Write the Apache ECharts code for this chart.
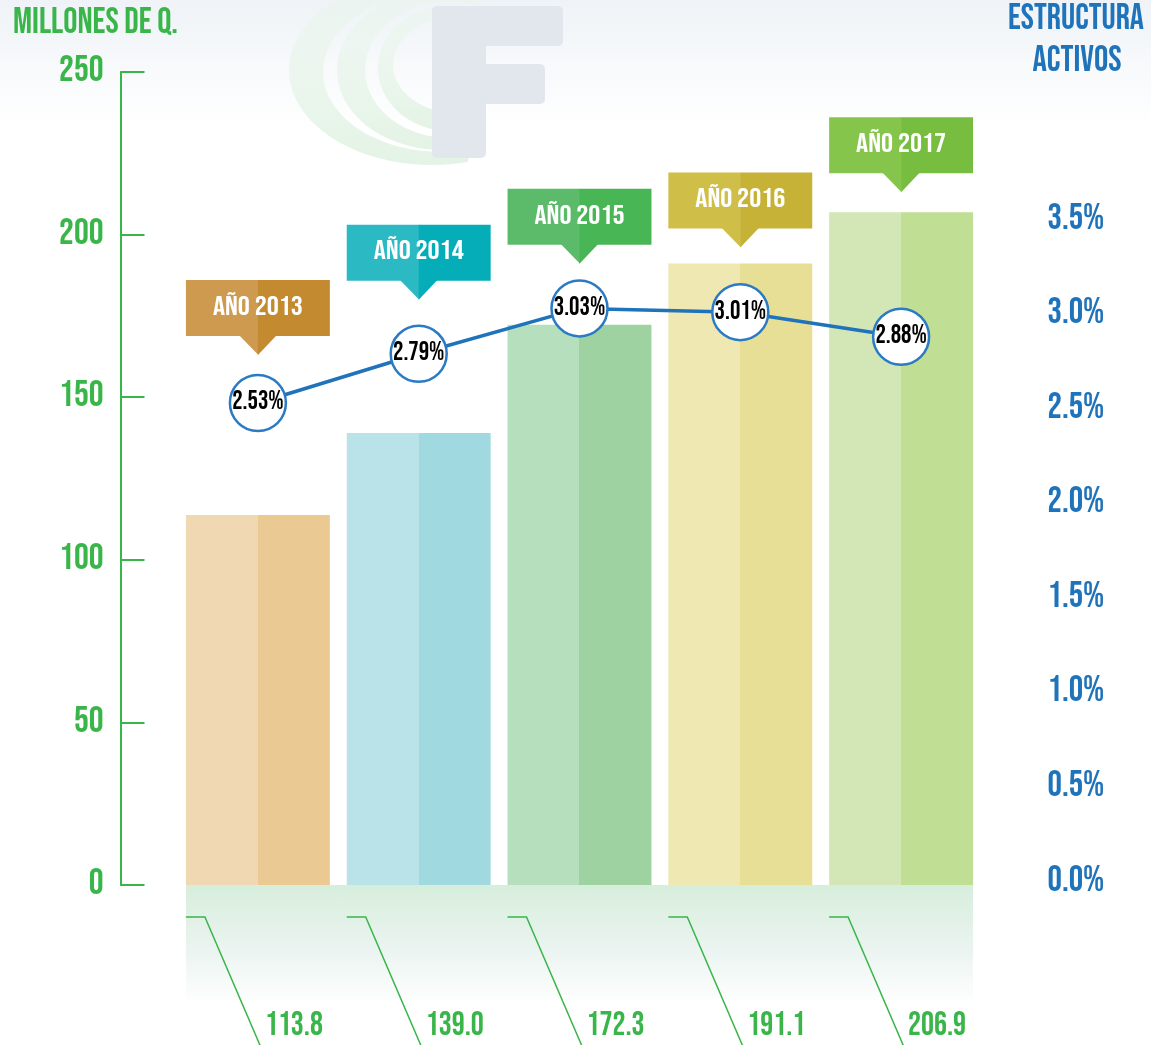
<!DOCTYPE html>
<html><head><meta charset="utf-8">
<script src="https://cdn.jsdelivr.net/npm/echarts@6/dist/echarts.min.js"></script>
<style>html,body{margin:0;padding:0;background:#fff}#c{width:1151px;height:1045px}</style>
</head><body><div id="c"></div>
<script>
// ---------- data ----------
const years = ['2013', '2014', '2015', '2016', '2017'];
const bannerLabels = ['AÑO 2013', 'AÑO 2014', 'AÑO 2015', 'AÑO 2016', 'AÑO 2017'];
const millones = [113.8, 139.0, 172.3, 191.1, 206.9];          // Millones de Q.
const estructura = [2.53, 2.79, 3.03, 3.01, 2.88];            // Estructura activos (%)
const leftAxisTicks = [0, 50, 100, 150, 200, 250];
const rightAxisTicks = [0.0, 0.5, 1.0, 1.5, 2.0, 2.5, 3.0, 3.5];
const bannerLevel = [163, 180, 191, 196, 213];                 // banner pointer level (millones scale)

// ---------- styles ----------
const GREEN = '#3ab54a', BLUE = '#1f73ba';
const barLight = ['#f0d8b2', '#b9e3e9', '#b6dfbd', '#efe8b2', '#d3e7b6'];
const barDark  = ['#eac993', '#a0d9e0', '#9fd2a1', '#e8df96', '#c1de95'];
const banLight = ['#cd9a50', '#2bb9c4', '#5cbb6a', '#cfbe48', '#86c54b'];
const banDark  = ['#c38a2f', '#05adb9', '#49b655', '#c5b236', '#77bd3f'];
const FONT = "'Bebas Neue','Oswald','Roboto Condensed',sans-serif";
const BAR_RATIO = 0.895;

const mctx = document.createElement('canvas').getContext('2d');
function fitX(text, size, w) { mctx.font = size + 'px ' + FONT; return w / mctx.measureText(text).width; }
function ctext(text, size, x, y, w, fill, align) {
  return { type: 'text', x: x, y: y, scaleX: fitX(text, size, w),
    style: { text: text, font: size + 'px ' + FONT, fill: fill,
      textAlign: align, align: align, textVerticalAlign: 'middle', verticalAlign: 'middle' } };
}
function crescent(o, inn, t1, t2) {
  const pts = [], N = 60;
  for (let k = 0; k <= N; k++) { const t = t1 + (t2 - t1) * k / N; pts.push([o[0] + o[2] * Math.cos(t), o[1] + o[3] * Math.sin(t)]); }
  for (let k = N; k >= 0; k--) { const t = t1 + (t2 - t1) * k / N; pts.push([inn[0] + inn[2] * Math.cos(t), inn[1] + inn[3] * Math.sin(t)]); }
  return { type: 'polygon', z: -10, shape: { points: pts }, silent: true,
    style: { fill: { type: 'linear', x: 0, y: 0, x2: 0, y2: 1, colorStops: [
      { offset: 0, color: 'rgba(232,245,234,0.35)' }, { offset: 1, color: '#e3f3e5' }] } } };
}

const leftMin = leftAxisTicks[0], leftMax = leftAxisTicks[leftAxisTicks.length - 1];
const rightMin = rightAxisTicks[0], rightMax = rightAxisTicks[rightAxisTicks.length - 1];

const chart = echarts.init(document.getElementById('c'), null, { renderer: 'canvas' });
chart.setOption({
  animation: false,
  backgroundColor: '#ffffff',
  graphic: [
    { type: 'rect', z: -20, silent: true, shape: { x: 0, y: 0, width: 1151, height: 130 },
      style: { fill: { type: 'linear', x: 0, y: 0, x2: 0, y2: 1, colorStops: [
        { offset: 0, color: '#eff3f7' }, { offset: 1, color: '#ffffff' }] } } },
    crescent([432, 70, 143, 95], [442, 72, 119, 80], 0.42 * Math.PI, 1.62 * Math.PI),
    crescent([442, 70, 105, 80], [450, 70, 85, 68], 0.45 * Math.PI, 1.62 * Math.PI),
    crescent([450, 68, 72, 63], [457, 65, 64, 48], 0.5 * Math.PI, 1.6 * Math.PI),
    { type: 'rect', z: -9, silent: true, shape: { x: 432, y: 6, width: 54, height: 152, r: 5 }, style: { fill: '#e2e7ee' } },
    { type: 'rect', z: -9, silent: true, shape: { x: 432, y: 6, width: 131, height: 40, r: 5 }, style: { fill: '#e2e7ee' } },
    { type: 'rect', z: -9, silent: true, shape: { x: 432, y: 64, width: 113, height: 40, r: 5 }, style: { fill: '#e2e7ee' } },
    ctext('MILLONES DE Q.', 37, 13, 24, 165, GREEN, 'left'),
    ctext('ESTRUCTURA', 36, 1008, 20, 136, BLUE, 'left'),
    ctext('ACTIVOS', 36, 1077, 62, 89, BLUE, 'center')
  ],
  grid: [
    { left: 177.5, right: 169.5, top: 72, bottom: 160 },
    { left: 177.5, right: 169.5, top: 219.5, bottom: 163.5 }
  ],
  xAxis: [
    { type: 'category', gridIndex: 0, data: years, show: false },
    { type: 'category', gridIndex: 1, data: years, show: false }
  ],
  yAxis: [
    { type: 'value', gridIndex: 0, min: leftMin, max: leftMax, interval: leftAxisTicks[1] - leftAxisTicks[0],
      position: 'left', offset: 57,
      axisLine: { show: true, lineStyle: { color: GREEN, width: 2 } },
      axisTick: { show: true, inside: true, length: 24, lineStyle: { color: GREEN, width: 2 } },
      axisLabel: { color: GREEN, fontFamily: FONT, fontWeight: 'normal', fontSize: 37, margin: 17 },
      splitLine: { show: false } },
    { type: 'value', gridIndex: 1, min: rightMin, max: rightMax, interval: rightAxisTicks[1] - rightAxisTicks[0],
      position: 'right',
      axisLine: { show: false }, axisTick: { show: false }, splitLine: { show: false },
      axisLabel: { color: BLUE, fontFamily: FONT, fontWeight: 'normal', fontSize: 36, margin: 66, align: 'left',
        formatter: v => v.toFixed(1) + '%' } }
  ],
  series: [
    { type: 'bar', xAxisIndex: 0, yAxisIndex: 0, barWidth: (BAR_RATIO * 100) + '%', z: 2,
      data: millones.map((v, i) => ({ value: v, itemStyle: { color: { type: 'linear', x: 0, y: 0, x2: 1, y2: 0,
        colorStops: [{ offset: 0, color: barLight[i] }, { offset: 0.5, color: barLight[i] },
                     { offset: 0.5, color: barDark[i] }, { offset: 1, color: barDark[i] }] } } })),
      emphasis: { disabled: true } },
    { type: 'custom', name: 'values', xAxisIndex: 0, yAxisIndex: 0, clip: false, z: 1,
      data: millones.map((v, i) => [i, v]),
      renderItem: function (params, api) {
        const i = params.dataIndex, n = millones.length;
        const p = api.coord([api.value(0), 0]);
        const band = api.size([1, 0])[0], bw = band * BAR_RATIO;
        const cx = p[0], y0 = p[1];
        const L = i === 0 ? cx - bw / 2 : cx - band / 2;
        const R = i === n - 1 ? cx + bw / 2 : cx + band / 2;
        const hy = y0 + 32, kx = cx - 53;
        const txt = api.value(1).toFixed(1);
        return { type: 'group', children: [
          { type: 'rect', shape: { x: L, y: y0, width: R - L + (i === n - 1 ? 0 : 0.6), height: 120 },
            style: { fill: { type: 'linear', x: 0, y: 0, x2: 0, y2: 1, colorStops: [
              { offset: 0, color: '#d7eedc' }, { offset: 0.55, color: '#ebf4f1' }, { offset: 1, color: '#ffffff' }] } } },
          { type: 'polyline', shape: { points: [[cx - bw / 2, hy], [kx, hy], [kx + (1050 - hy) * 55 / 128, 1050]] },
            style: { stroke: GREEN, lineWidth: 1.5, fill: null } },
          ctext(txt, 34, cx + 7, 1026, 58, GREEN, 'left')
        ] };
      } },
    { type: 'custom', name: 'banners', xAxisIndex: 0, yAxisIndex: 0, clip: false, z: 4,
      data: bannerLevel.map((v, i) => [i, v]),
      renderItem: function (params, api) {
        const i = params.dataIndex;
        const p = api.coord([api.value(0), api.value(1)]);
        const bw = api.size([1, 0])[0] * BAR_RATIO;
        const cx = p[0], tip = p[1], bottom = tip - 19, top = bottom - 56;
        return { type: 'group', children: [
          { type: 'rect', shape: { x: cx - bw / 2, y: top, width: bw / 2 + 0.5, height: 56 }, style: { fill: banLight[i] } },
          { type: 'rect', shape: { x: cx, y: top, width: bw / 2, height: 56 }, style: { fill: banDark[i] } },
          { type: 'polygon', shape: { points: [[cx - 19, bottom - 1], [cx + 0.5, bottom - 1], [cx + 0.5, tip]] }, style: { fill: banLight[i] } },
          { type: 'polygon', shape: { points: [[cx, bottom - 1], [cx + 19, bottom - 1], [cx, tip]] }, style: { fill: banDark[i] } },
          ctext(bannerLabels[i], 27, cx, top + 28, 90, '#ffffff', 'center')
        ] };
      } },
    { type: 'line', xAxisIndex: 1, yAxisIndex: 1, z: 5, data: estructura,
      symbol: 'circle', symbolSize: 56,
      itemStyle: { color: '#ffffff', borderColor: '#2a7ac4', borderWidth: 2.5 },
      lineStyle: { color: BLUE, width: 3.5 },
      label: { show: true, position: 'inside', color: '#000', fontFamily: FONT, fontWeight: 'normal', fontSize: 26,
        formatter: p => p.value.toFixed(2) + '%' },
      emphasis: { disabled: true } }
  ]
});
</script></body></html>
